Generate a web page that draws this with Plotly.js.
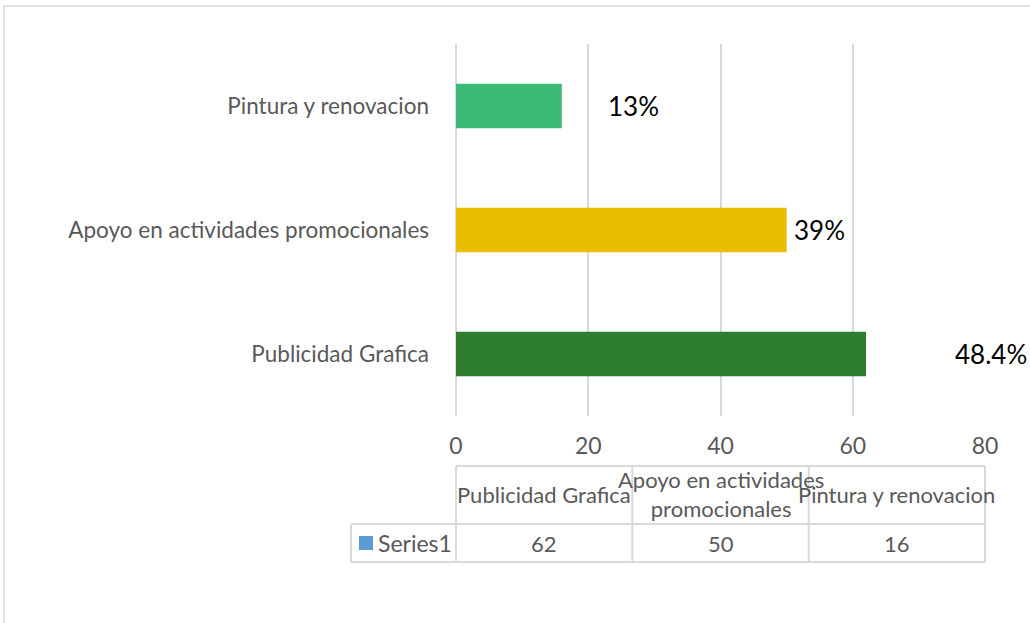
<!DOCTYPE html>
<html>
<head>
<meta charset="utf-8">
<script src="https://cdn.plot.ly/plotly-3.0.1.min.js"></script>
<style>html,body{margin:0;padding:0;background:#fff;}#chart{width:1030px;height:623px;}</style>
</head>
<body>
<div id="chart"></div>
<script>
// ---- data ----
var categories = ['Publicidad Grafica', 'Apoyo en actividades promocionales', 'Pintura y renovacion'];
var tableHeaders = ['Publicidad Grafica', 'Apoyo en actividades<br>promocionales', 'Pintura y renovacion'];
var values = [62, 50, 16];
var pctLabels = ['48.4%', '39%', '13%'];
var seriesName = 'Series1';
var xTicks = [0, 20, 40, 60, 80];

// ---- style ----
var barColors = ['#2E7D2E', '#E9BD00', '#3CBA76'];
var labelShift = [88, 6, 45]; // px gap between bar end and label
var W = 1030, H = 623;
var M = {l: 456, r: 45, t: 44, b: 207};
var xMax = 80;
var plotW = W - M.l - M.r, plotH = H - M.t - M.b;
var gray = '#595959', lineCol = '#D9D9D9';
var fontFam = 'Lato, sans-serif';

function pyP(py) { return (H - M.b - py) / plotH; }            // pixel -> paper y
function pxP(px) { return (px - M.l) / plotW; }                // pixel -> paper x

var trace = {
  type: 'bar', orientation: 'h',
  y: categories, x: values,
  marker: {color: barColors},
  width: 0.36,
  hoverinfo: 'none'
};

var shapes = [];
var annotations = [];

// outer border
shapes.push({type: 'rect', xref: 'paper', yref: 'paper',
  x0: pxP(4), x1: pxP(1040), y0: pyP(640), y1: pyP(6),
  line: {color: lineCol, width: 1.5}, layer: 'below'});

// data labels
for (var i = 0; i < values.length; i++) {
  annotations.push({x: values[i], y: categories[i], xref: 'x', yref: 'y',
    text: pctLabels[i], showarrow: false, xanchor: 'left', yanchor: 'middle',
    xshift: labelShift[i] - 1, bgcolor: '#ffffff', borderpad: 1,
    font: {family: fontFam, size: 26, color: '#000000'}});
}

// data table (paper coordinates; columns split the x range evenly)
var colEdges = [];
for (var c = 0; c <= categories.length; c++) colEdges.push(c / categories.length);
var tTop = pyP(466), tMid = pyP(524), tBot = pyP(562);
var legendLeft = pxP(351);
function line(x0, y0, x1, y1) {
  shapes.push({type: 'line', xref: 'paper', yref: 'paper', x0: x0, x1: x1, y0: y0, y1: y1,
    line: {color: lineCol, width: 2}});
}
var right = colEdges[colEdges.length - 1];
line(colEdges[0], tTop, right, tTop);
line(legendLeft, tMid, right, tMid);
line(legendLeft, tBot, right, tBot);
line(legendLeft, tMid, legendLeft, tBot);
for (var c = 0; c < colEdges.length; c++) line(colEdges[c], tTop, colEdges[c], tBot);

var tFont = {family: fontFam, size: 22, color: gray};
for (var i = 0; i < categories.length; i++) {
  var cx = (colEdges[i] + colEdges[i + 1]) / 2;
  annotations.push({x: cx, y: pyP(494), xref: 'paper', yref: 'paper', text: tableHeaders[i],
    showarrow: false, xanchor: 'center', yanchor: 'middle', font: tFont});
  annotations.push({x: cx, y: pyP(543), xref: 'paper', yref: 'paper', text: String(values[i]),
    showarrow: false, xanchor: 'center', yanchor: 'middle', font: tFont});
}
// legend key
shapes.push({type: 'rect', xref: 'paper', yref: 'paper',
  x0: pxP(359), x1: pxP(373), y0: pyP(550), y1: pyP(536),
  fillcolor: '#5B9BD5', line: {width: 0}});
annotations.push({x: pxP(376), y: pyP(543), xref: 'paper', yref: 'paper', text: seriesName,
  showarrow: false, xanchor: 'left', yanchor: 'middle',
  font: {family: fontFam, size: 23, color: gray}});

var layout = {
  width: W, height: H,
  margin: M,
  paper_bgcolor: '#ffffff', plot_bgcolor: '#ffffff',
  showlegend: false,
  font: {family: fontFam, color: gray, size: 22},
  xaxis: {range: [0, xMax], tickvals: xTicks, ticktext: xTicks.map(String),
    showgrid: true, gridcolor: lineCol, gridwidth: 2, zeroline: true, zerolinecolor: lineCol, zerolinewidth: 2,
    showline: false, ticks: '', ticklabelstandoff: 14,
    tickfont: {family: fontFam, size: 23, color: gray}, fixedrange: true},
  yaxis: {type: 'category', categoryorder: 'array', categoryarray: categories,
    showgrid: false, zeroline: false, showline: false, ticks: '', ticklabelstandoff: 26,
    tickfont: {family: fontFam, size: 22.5, color: gray}, fixedrange: true},
  shapes: shapes,
  annotations: annotations
};

Plotly.newPlot('chart', [trace], layout, {displayModeBar: false, staticPlot: true});
</script>
</body>
</html>
